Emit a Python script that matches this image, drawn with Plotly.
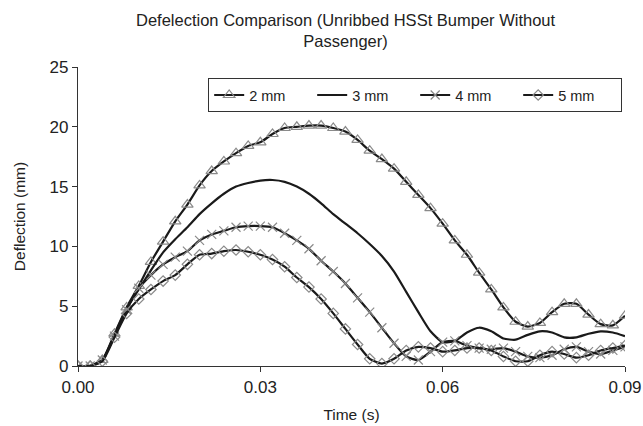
import plotly.graph_objects as go

time_s = [0.000, 0.002, 0.004, 0.006, 0.008, 0.010, 0.012, 0.014, 0.016, 0.018,
          0.020, 0.022, 0.024, 0.026, 0.028, 0.030, 0.032, 0.034, 0.036, 0.038,
          0.040, 0.042, 0.044, 0.046, 0.048, 0.050, 0.052, 0.054, 0.056, 0.058,
          0.060, 0.062, 0.064, 0.066, 0.068, 0.070, 0.072, 0.074, 0.076, 0.078,
          0.080, 0.082, 0.084, 0.086, 0.088, 0.090]

defl_2mm = [0.0, 0.0, 0.5, 2.7, 4.9, 6.7, 8.7, 10.4, 12.1, 13.5,
            15.1, 16.3, 17.1, 17.8, 18.4, 18.7, 19.4, 19.9, 20.0, 20.1,
            20.1, 19.9, 19.6, 18.9, 18.0, 17.3, 16.5, 15.4, 14.3, 13.2,
            11.9, 10.5, 9.3, 7.8, 6.4, 4.9, 3.7, 3.3, 3.6, 4.5,
            5.2, 5.2, 4.3, 3.5, 3.4, 4.2]

defl_3mm = [0.0, 0.0, 0.5, 2.6, 4.8, 6.4, 8.0, 9.5, 10.6, 11.6,
            12.7, 13.6, 14.4, 15.0, 15.3, 15.5, 15.55, 15.4, 15.0, 14.4,
            13.6, 12.7, 11.9, 11.1, 10.2, 9.2, 7.9, 6.2, 4.5, 2.9,
            2.0, 2.1, 2.8, 3.2, 2.9, 2.3, 2.2, 2.6, 2.9, 2.8,
            2.4, 2.4, 2.7, 2.9, 2.8, 2.5]

defl_4mm = [0.0, 0.0, 0.5, 2.5, 4.7, 6.5, 7.6, 8.5, 9.1, 9.6,
            10.5, 11.0, 11.3, 11.6, 11.7, 11.7, 11.6, 11.1, 10.5, 9.8,
            8.8, 7.9, 6.9, 5.7, 4.5, 3.2, 1.9, 0.8, 0.5, 1.2,
            2.0, 2.1, 1.7, 1.5, 1.4, 1.5, 1.2, 0.8, 0.7, 0.9,
            1.4, 1.6, 1.2, 1.0, 1.3, 1.6]

defl_5mm = [0.0, 0.0, 0.4, 2.4, 4.4, 5.6, 6.4, 7.1, 7.6, 8.5,
            9.3, 9.4, 9.6, 9.7, 9.55, 9.3, 8.9, 8.3, 7.4, 6.6,
            5.6, 4.4, 3.1, 1.8, 0.6, 0.2, 0.6, 1.3, 1.6, 1.5,
            1.2, 1.3, 1.5, 1.5, 1.3, 0.8, 0.4, 0.4, 0.9, 1.2,
            1.0, 0.7, 0.9, 1.3, 1.5, 1.7]

series_names = ["2 mm", "3 mm", "4 mm", "5 mm"]
series_values = [defl_2mm, defl_3mm, defl_4mm, defl_5mm]
series_symbols = ["triangle-up-open", None, "x-thin-open", "diamond-open"]
series_sizes = [10, 0, 9, 8]

x_ticks = [0.00, 0.03, 0.06, 0.09]
y_ticks = [0, 5, 10, 15, 20, 25]

fig = go.Figure()
for name, vals, sym, sz in zip(series_names, series_values, series_symbols, series_sizes):
    if sym is None:
        fig.add_trace(go.Scatter(
            x=time_s, y=vals, name=name, mode="lines",
            line=dict(color="#1a1a1a", width=2.2, shape="spline", smoothing=0.6),
        ))
    else:
        fig.add_trace(go.Scatter(
            x=time_s, y=vals, name=name, mode="lines+markers",
            line=dict(color="#1a1a1a", width=2.2, shape="spline", smoothing=0.6),
            marker=dict(symbol=sym, size=sz, color="#8a8a8a",
                        line=dict(color="#8a8a8a", width=1.2)),
        ))

fig.update_layout(
    width=643, height=426,
    paper_bgcolor="white", plot_bgcolor="white",
    margin=dict(l=78, r=18, t=67, b=60, autoexpand=False),
    font=dict(family="Liberation Sans, Arial, sans-serif", size=15, color="#222"),
    annotations=[dict(
        text="Defelection Comparison (Unribbed HSSt Bumper Without<br>Passenger)",
        xref="paper", yref="paper", x=0.49, y=1.195, xanchor="center", yanchor="top",
        showarrow=False, align="center", font=dict(size=16.5, color="#222"),
    )],
    legend=dict(
        orientation="h", x=0.238, xanchor="left", y=0.963, yanchor="top",
        bordercolor="#333", borderwidth=1, bgcolor="white",
        font=dict(size=14.5, color="#222"),
        entrywidth=58, entrywidthmode="pixels", tracegroupgap=0,
    ),
    showlegend=True,
)

fig.update_xaxes(
    range=[0, 0.09], tickvals=x_ticks, tickformat=".2f",
    showline=True, linecolor="#333", linewidth=1.2,
    ticks="outside", ticklen=5, tickcolor="#333",
    showgrid=False, zeroline=False, automargin=False,
    tickfont=dict(size=17, color="#222"),
    title=dict(text="Time (s)", font=dict(size=15.5, color="#222"), standoff=13),
)
fig.update_yaxes(
    range=[0, 25], tickvals=y_ticks,
    showline=True, linecolor="#333", linewidth=1.2,
    ticks="outside", ticklen=5, tickcolor="#333",
    showgrid=False, zeroline=False, automargin=False,
    tickfont=dict(size=17, color="#222"),
    title=dict(text="Deflection (mm)", font=dict(size=15.5, color="#222"), standoff=20),
)

fig.write_html("out.html")
